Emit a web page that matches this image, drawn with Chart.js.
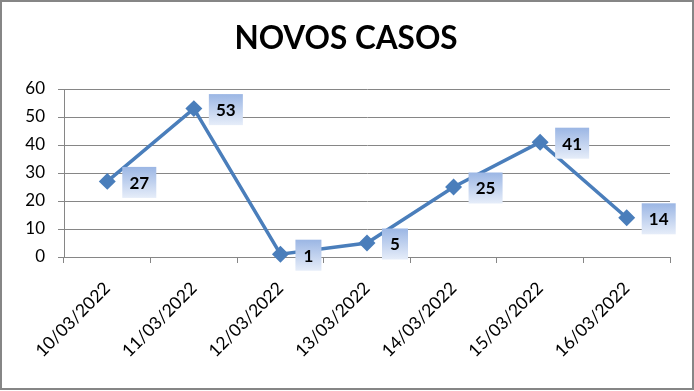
<!DOCTYPE html>
<html>
<head>
<meta charset="utf-8">
<script src="https://cdn.jsdelivr.net/npm/chart.js"></script>
<style>
  *{margin:0;padding:0;box-sizing:border-box}
  body{background:#fff;width:694px;height:391px;overflow:hidden}
  .frame{width:694px;height:390px;border:2px solid #868686;background:#fff}
  .frame canvas{display:block}
</style>
</head>
<body>
<div class="frame"><canvas id="chart" width="690" height="386"></canvas></div>
<script>
const TITLE = "NOVOS CASOS";
const DATES = ["10/03/2022", "11/03/2022", "12/03/2022", "13/03/2022", "14/03/2022", "15/03/2022", "16/03/2022"];
const NOVOS_CASOS = [27, 53, 1, 5, 25, 41, 14];
const Y_MIN = 0, Y_MAX = 60, Y_STEP = 10;

const LINE_BLUE = "#4a7ebb";
const FONT = "Lato, 'DejaVu Sans', sans-serif";

// title sits over the whole frame, not just the area left of the right padding
const frameTitle = {
  id: "frameTitle",
  afterDraw(chart) {
    const ctx = chart.ctx;
    ctx.save();
    ctx.font = "bold 31.5px " + FONT;
    ctx.fillStyle = "#000";
    ctx.textAlign = "center";
    ctx.textBaseline = "alphabetic";
    ctx.fillText(TITLE, 344, 47);
    ctx.restore();
  }
};

// gradient boxes with the values, to the right of each point
const valueBoxes = {
  id: "valueBoxes",
  afterDatasetsDraw(chart) {
    const ctx = chart.ctx;
    const meta = chart.getDatasetMeta(0);
    ctx.save();
    ctx.font = "bold 17px " + FONT;
    ctx.textAlign = "center";
    ctx.textBaseline = "middle";
    meta.data.forEach((pt, i) => {
      const txt = String(NOVOS_CASOS[i]);
      const w = txt.length > 1 ? 34 : 26, h = 31;
      const x = pt.x + 15, y = pt.y - h / 2 + 1;
      const g = ctx.createLinearGradient(x, y, x, y + h);
      g.addColorStop(0, "#9bb6e4");
      g.addColorStop(1, "#e6edf9");
      ctx.fillStyle = g;
      ctx.fillRect(x, y, w, h);
      ctx.fillStyle = "#000";
      ctx.fillText(txt, x + w / 2, y + h / 2 + 1);
    });
    ctx.restore();
  }
};

new Chart(document.getElementById("chart"), {
  type: "line",
  data: {
    labels: DATES,
    datasets: [{
      label: TITLE,
      data: NOVOS_CASOS,
      borderColor: LINE_BLUE,
      backgroundColor: LINE_BLUE,
      borderWidth: 3.5,
      tension: 0,
      pointStyle: "rectRot",
      pointRadius: 6,
      pointHoverRadius: 6,
      pointBackgroundColor: LINE_BLUE,
      pointBorderColor: LINE_BLUE,
      clip: false
    }]
  },
  options: {
    responsive: false,
    animation: false,
    layout: { padding: { left: 0, right: 22, top: 87, bottom: 0 } },
    plugins: {
      legend: { display: false },
      tooltip: { enabled: false },
      title: { display: false }
    },
    scales: {
      x: {
        offset: true,
        grid: { display: true, drawOnChartArea: false, drawTicks: true, tickLength: 6, color: "#868686", offset: true },
        border: { display: true, color: "#868686" },
        ticks: { color: "#000", font: { family: FONT, size: 17.5 }, minRotation: 45, maxRotation: 45, padding: 15, autoSkip: false },
        afterFit(s) { s.height = 131; }
      },
      y: {
        min: Y_MIN, max: Y_MAX,
        grid: { color: "#868686", lineWidth: 1, tickLength: 6 },
        border: { display: true, color: "#868686" },
        ticks: { stepSize: Y_STEP, color: "#000", font: { family: FONT, size: 17 }, padding: 13 },
        afterFit(s) { s.width = 62; }
      }
    }
  },
  plugins: [valueBoxes, frameTitle]
});
</script>
</body>
</html>
